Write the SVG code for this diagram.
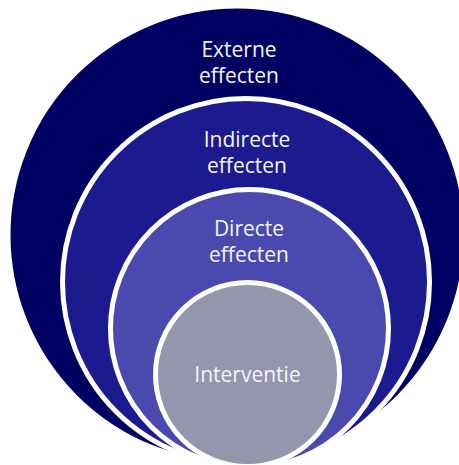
<svg xmlns="http://www.w3.org/2000/svg" width="459" height="465" viewBox="0 0 459 465">
<style>
.c{stroke:#ffffff;stroke-width:5}
.t{font-family:"Open Sans","Liberation Sans",sans-serif;font-size:21px;fill:#f4f4f8;text-anchor:middle}
</style>
<rect width="459" height="465" fill="#ffffff"/>
<g id="externe">
<circle class="c" cx="237" cy="235" r="229" fill="#010164"/>
<text class="t" x="239" y="57">Externe</text>
<text class="t" x="239" y="83">effecten</text>
</g>
<g id="indirecte">
<circle class="c" cx="246" cy="282" r="183.5" fill="#1b1b8f"/>
<text class="t" x="247" y="147">Indirecte</text>
<text class="t" x="247" y="173">effecten</text>
</g>
<g id="directe">
<circle class="c" cx="249.5" cy="328.5" r="139" fill="#4a4aae"/>
<text class="t" x="249" y="236">Directe</text>
<text class="t" x="249" y="262">effecten</text>
</g>
<g id="interventie">
<circle class="c" cx="247.5" cy="374.5" r="92" fill="#9595ab"/>
<text class="t" x="247.5" y="382">Interventie</text>
</g>
<g id="connectors"/>
</svg>
